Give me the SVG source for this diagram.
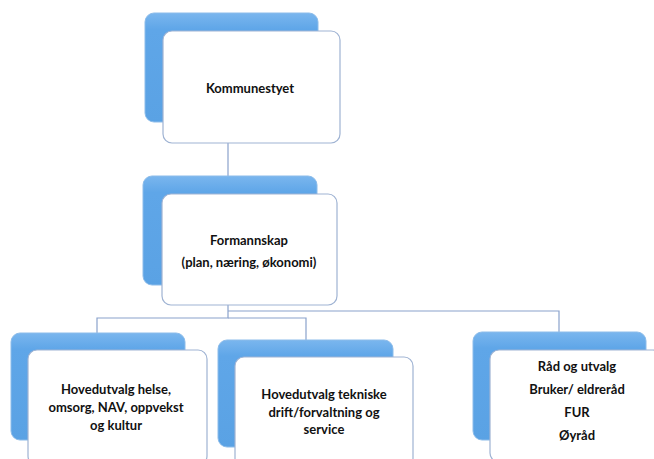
<svg xmlns="http://www.w3.org/2000/svg" width="654" height="459" viewBox="0 0 654 459">
<defs>
<linearGradient id="bg" x1="0" y1="0" x2="0" y2="1">
<stop offset="0" stop-color="#7ab6ee"/>
<stop offset="0.15" stop-color="#5fa6e8"/>
<stop offset="1" stop-color="#5aa2e4"/>
</linearGradient>
</defs>
<style>
.back{fill:url(#bg);stroke:#8cbcea;stroke-width:1}
.front{fill:#ffffff;stroke:#9fb3d3;stroke-width:1.2}
.t{font-family:Lato,"Open Sans","Liberation Sans",sans-serif;font-size:13px;font-weight:700;fill:#111111;text-anchor:middle}
.c{fill:none;stroke:#8aa2cc;stroke-width:1.2}
</style>
<rect width="654" height="459" fill="#ffffff"/>
<g id="connectors">
<path class="c" d="M228,143 V177"/>
<path class="c" d="M228,305 V318 H97 V333"/>
<path class="c" d="M228,318 H306 V340"/>
<path class="c" d="M228,311 H559 V332"/>
</g>
<g id="kommunestyet">
<rect class="back" x="145" y="13" width="173" height="109" rx="9"/>
<rect class="front" x="163" y="31" width="177" height="112" rx="9"/>
<text class="t" x="250" y="93">Kommunestyet</text>
</g>
<g id="formannskap">
<rect class="back" x="143" y="176" width="174" height="109" rx="9"/>
<rect class="front" x="162" y="194" width="175" height="111" rx="9"/>
<text class="t" x="249" y="245">Formannskap</text>
<text class="t" x="249" y="267">(plan, næring, økonomi)</text>
</g>
<g id="hovedutvalg-helse">
<rect class="back" x="11" y="333" width="174" height="107" rx="9"/>
<rect class="front" x="28" y="350" width="179" height="115" rx="9"/>
<text class="t" x="116" y="394">Hovedutvalg helse,</text>
<text class="t" x="116" y="412">omsorg, NAV, oppvekst</text>
<text class="t" x="116" y="430">og kultur</text>
</g>
<g id="hovedutvalg-teknisk">
<rect class="back" x="218" y="340" width="175" height="107" rx="9"/>
<rect class="front" x="235" y="357" width="178" height="110" rx="9"/>
<text class="t" x="324" y="399">Hovedutvalg tekniske</text>
<text class="t" x="324" y="417">drift/forvaltning og</text>
<text class="t" x="324" y="434">service</text>
</g>
<g id="rad-og-utvalg">
<rect class="back" x="473" y="332" width="173" height="108" rx="9"/>
<rect class="front" x="490" y="350" width="172" height="112" rx="9"/>
<text class="t" x="577" y="371">Råd og utvalg</text>
<text class="t" x="577" y="394">Bruker/ eldreråd</text>
<text class="t" x="577" y="417">FUR</text>
<text class="t" x="577" y="440">Øyråd</text>
</g>
</svg>
